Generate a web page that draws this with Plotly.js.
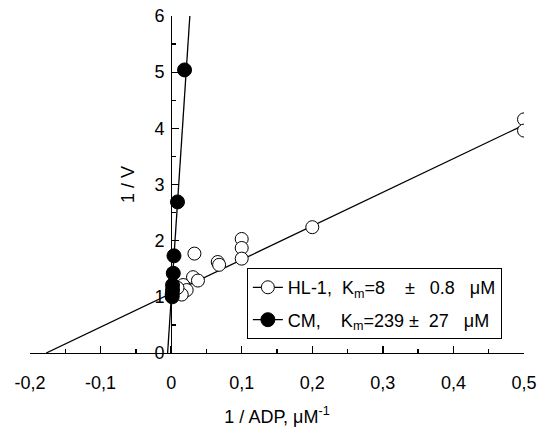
<!DOCTYPE html>
<html><head><meta charset="utf-8">
<script src="https://cdn.plot.ly/plotly-3.0.1.min.js"></script>
<style>html,body{margin:0;padding:0;background:#fff}#chart{width:541px;height:432px}</style>
</head><body><div id="chart"></div>
<script>
// HL-1 data (open circles)
const hlX = [0.5, 0.5, 0.2, 0.1, 0.1, 0.1, 0.066, 0.068, 0.033, 0.031, 0.038, 0.017, 0.022, 0.015, 0.009];
const hlY = [4.16, 3.96, 2.24, 2.03, 1.87, 1.68, 1.62, 1.57, 1.77, 1.35, 1.29, 1.21, 1.12, 1.04, 1.16];
// CM data (filled circles)
const cmX = [0.019, 0.009, 0.004, 0.003, 0.002, 0.002, 0.0015, 0.0015];
const cmY = [5.04, 2.69, 1.73, 1.42, 1.21, 1.12, 1.05, 1.0];
// Fit lines
const hlFitX = [-0.177, 0.5];
const hlFitY = [0, 4.06];
const cmFitX = [-0.005, 0.0265];
const cmFitY = [0, 6];
// Tick labels
const xTickVals = [-0.2, -0.1, 0, 0.1, 0.2, 0.3, 0.4, 0.5];
const xTickText = ['-0,2', '-0,1', '0', '0,1', '0,2', '0,3', '0,4', '0,5'];
const yTickVals = [0, 1, 2, 3, 4, 5, 6];
const hlName = 'HL-1,\u00a0\u00a0K<sub>m</sub>=8\u00a0\u00a0\u00a0\u00a0±\u00a0\u00a0\u00a00.8\u00a0\u00a0\u00a0\u03bcM';
const cmName = 'CM,\u00a0\u00a0\u00a0\u00a0K<sub>m</sub>=239\u00a0±\u00a0\u00a027\u00a0\u00a0\u00a0\u03bcM';

const traces = [
  {x: hlFitX, y: hlFitY, mode: 'lines', line: {color: '#000', width: 1.3}, showlegend: false, hoverinfo: 'skip'},
  {x: cmFitX, y: cmFitY, mode: 'lines', line: {color: '#000', width: 1.3}, showlegend: false, hoverinfo: 'skip'},
  {x: hlX, y: hlY, mode: 'markers', showlegend: false,
   marker: {symbol: 'circle', size: 13, color: '#fff', line: {color: '#000', width: 1}}},
  {x: cmX, y: cmY, mode: 'markers', showlegend: false,
   marker: {symbol: 'circle', size: 14, color: '#000', line: {color: '#000', width: 1}}},
  {x: [null], y: [null], mode: 'lines+markers', name: hlName, legendgroup: 'a', line: {color: '#000', width: 1.3},
   marker: {symbol: 'circle', size: 13, color: '#fff', line: {color: '#000', width: 1}}},
  {x: [null], y: [null], mode: 'lines+markers', name: cmName, legendgroup: 'b', line: {color: '#000', width: 1.3},
   marker: {symbol: 'circle', size: 14, color: '#000', line: {color: '#000', width: 1}}}
];

const layout = {
  width: 541, height: 432,
  margin: {l: 30, r: 17, t: 16, b: 79},
  paper_bgcolor: '#fff', plot_bgcolor: '#fff',
  font: {family: 'Liberation Sans, Arial, sans-serif', size: 18, color: '#000'},
  xaxis: {
    range: [-0.2, 0.5], tickmode: 'array', tickvals: xTickVals, ticktext: xTickText,
    ticks: 'inside', ticklen: 7, tickwidth: 1.3, tickcolor: '#000', ticklabelstandoff: 13,
    showline: true, linecolor: '#000', linewidth: 1.3, showgrid: false, zeroline: false,
    minor: {tickmode: 'linear', tick0: 0, dtick: 0.05, ticks: 'inside', ticklen: 4, tickwidth: 1.3, tickcolor: '#000'},
    title: {text: '1 / ADP, \u03bcM<sup>-1</sup>', font: {size: 18}, standoff: 18},
    tickfont: {size: 18}
  },
  yaxis: {
    range: [0, 6], tickmode: 'array', tickvals: yTickVals,
    anchor: 'free', position: 0.2857,
    ticks: 'inside', ticklen: 7, tickwidth: 1.3, tickcolor: '#000', ticklabelstandoff: 3,
    showline: true, linecolor: '#000', linewidth: 1.3, showgrid: false, zeroline: false,
    minor: {tickmode: 'linear', tick0: 0, dtick: 0.5, ticks: 'inside', ticklen: 4, tickwidth: 1.3, tickcolor: '#000'},
    title: {text: '1 / V', font: {size: 18}, standoff: 14},
    tickfont: {size: 18}
  },
  legend: {
    x: 0.439, y: 0.252, xanchor: 'left', yanchor: 'top',
    bordercolor: '#000', borderwidth: 1, bgcolor: '#fff',
    font: {size: 18}, tracegroupgap: 6, itemwidth: 30
  },
  showlegend: true
};
Plotly.newPlot('chart', traces, layout, {staticPlot: true});
</script></body></html>
